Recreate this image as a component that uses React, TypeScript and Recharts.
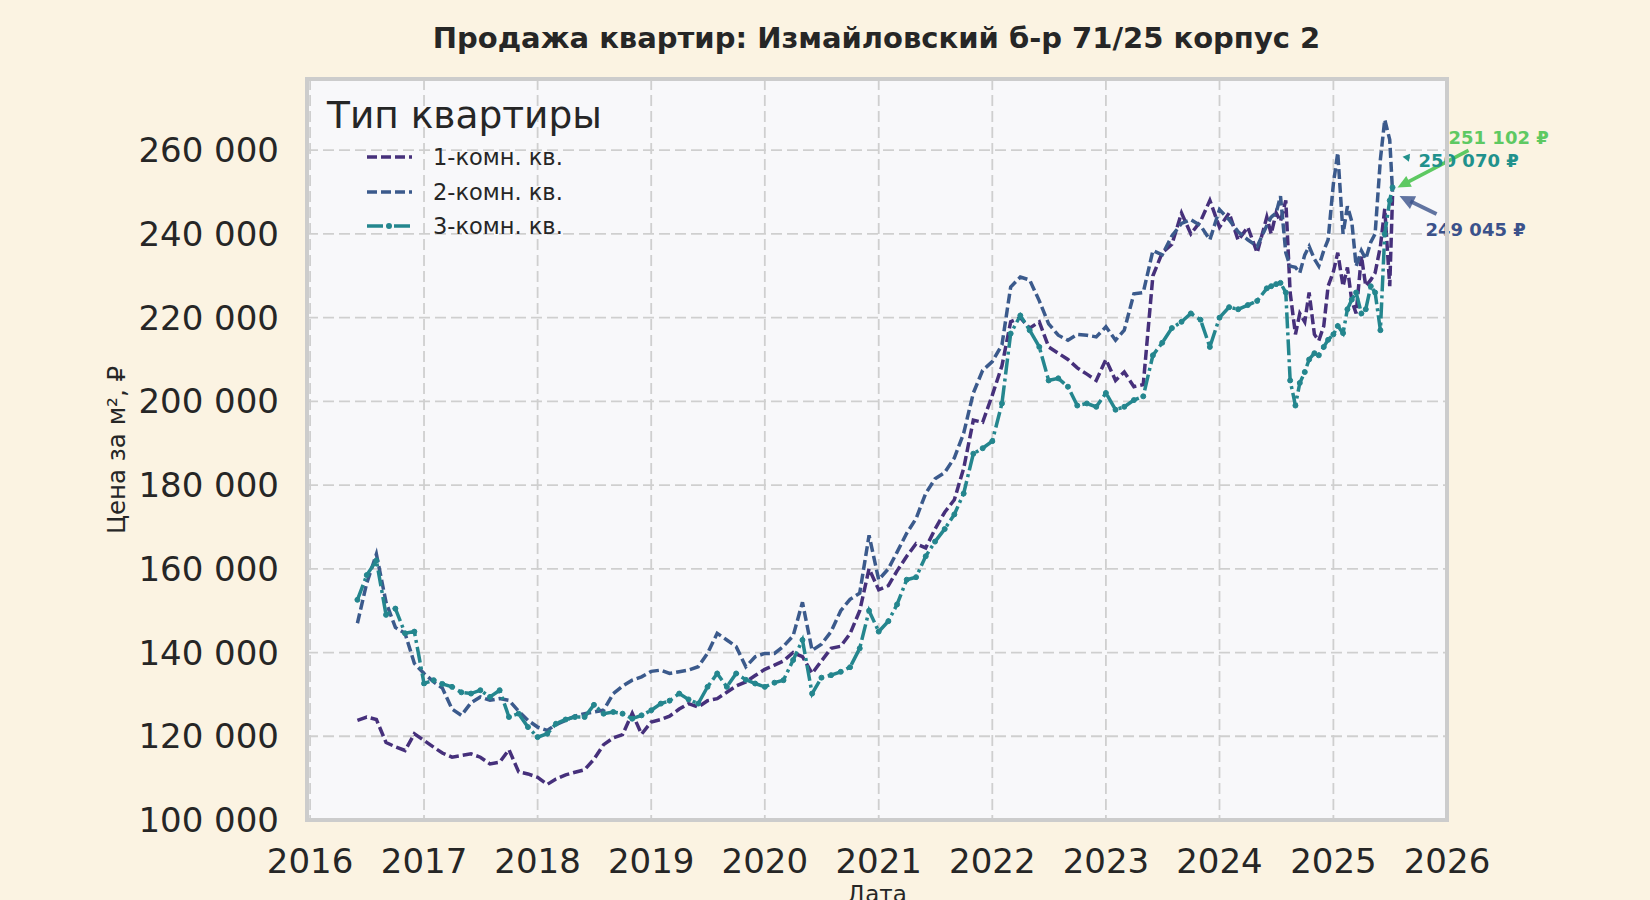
import { LineChart, Line, XAxis, YAxis, CartesianGrid, Legend, ReferenceDot } from 'recharts';

// dates of the observations (monthly, then twice a month for the last year)
const dates = [
  '2016-06-01', '2016-07-01', '2016-08-01', '2016-09-01', '2016-10-01', '2016-11-01', '2016-12-01',
  '2017-01-01', '2017-02-01', '2017-03-01', '2017-04-01', '2017-05-01', '2017-06-01',
  '2017-07-01', '2017-08-01', '2017-09-01', '2017-10-01', '2017-11-01', '2017-12-01',
  '2018-01-01', '2018-02-01', '2018-03-01', '2018-04-01', '2018-05-01', '2018-06-01',
  '2018-07-01', '2018-08-01', '2018-09-01', '2018-10-01', '2018-11-01', '2018-12-01',
  '2019-01-01', '2019-02-01', '2019-03-01', '2019-04-01', '2019-05-01', '2019-06-01',
  '2019-07-01', '2019-08-01', '2019-09-01', '2019-10-01', '2019-11-01', '2019-12-01',
  '2020-01-01', '2020-02-01', '2020-03-01', '2020-04-01', '2020-05-01', '2020-06-01',
  '2020-07-01', '2020-08-01', '2020-09-01', '2020-10-01', '2020-11-01', '2020-12-01',
  '2021-01-01', '2021-02-01', '2021-03-01', '2021-04-01', '2021-05-01', '2021-06-01',
  '2021-07-01', '2021-08-01', '2021-09-01', '2021-10-01', '2021-11-01', '2021-12-01',
  '2022-01-01', '2022-02-01', '2022-03-01', '2022-04-01', '2022-05-01', '2022-06-01',
  '2022-07-01', '2022-08-01', '2022-09-01', '2022-10-01', '2022-11-01', '2022-12-01',
  '2023-01-01', '2023-02-01', '2023-03-01', '2023-04-01', '2023-05-01', '2023-06-01',
  '2023-07-01', '2023-08-01', '2023-09-01', '2023-10-01', '2023-11-01', '2023-12-01',
  '2024-01-01', '2024-02-01', '2024-03-01', '2024-04-01', '2024-05-01', '2024-06-01',
  '2024-06-15', '2024-07-01', '2024-07-15', '2024-08-01', '2024-08-15', '2024-09-01',
  '2024-09-15', '2024-10-01', '2024-10-15', '2024-11-01', '2024-11-15', '2024-12-01',
  '2024-12-15', '2025-01-01', '2025-01-15', '2025-02-01', '2025-02-15', '2025-03-01',
  '2025-03-15', '2025-04-01', '2025-04-15', '2025-05-01', '2025-05-15', '2025-06-01',
  '2025-06-15', '2025-07-01', '2025-07-10',
];

// цена за м², ₽
const oneRoom = [
  123800, 124600, 124000, 118500, 117500, 116600, 120600,
  119000, 117400, 116000, 115000, 115400, 115800, 115000, 113400, 113800, 116800, 111500, 111000,
  110200, 108500, 109800, 110800, 111400, 112000, 114500, 118000, 119600, 120400, 125500, 120500,
  123400, 124000, 124800, 126500, 127800, 127000, 128500, 129000, 130500, 132000, 133000, 134500,
  136000, 137000, 138000, 140000, 139000, 135000, 138000, 141000, 141500, 144500, 150000, 160000,
  155000, 156000, 159500, 163000, 166000, 165000, 169500, 173500, 176500, 184000, 195500, 195000,
  201500, 208500, 219000, 220000, 217500, 219000, 213000, 211500, 210000, 208000, 206500, 205000,
  210000, 205000, 207000, 203500, 204000, 230000, 235500, 237500, 245000, 240000, 243000, 248000,
  241600, 245000, 238500, 241600, 235500, 244000,
  240000, 245000, 243000, 248000, 226000, 216000, 221000, 219000, 226000, 216000, 214500, 218000,
  227500, 231000, 235500, 227500, 232000, 224000, 221000, 234700, 227500, 229000, 230700, 237000,
  246000, 227500, 249045,
];

const twoRoom = [
  147000, 156600, 163500, 152000, 146000, 144600, 137400,
  135000, 133000, 131500, 126500, 125000, 128000, 129400, 128600, 129000, 128600, 126000, 123800,
  122200, 121400, 122800, 123800, 124800, 125400, 125800, 126200, 130200, 132000, 133400, 134200,
  135500, 135800, 135000, 135400, 135800, 136600, 139800, 144600, 143000, 141400, 136600, 139000,
  139800, 139800, 141500, 144000, 152000, 140500, 142000, 145000, 150000, 152700, 154200, 168000,
  157400, 160000, 164000, 168500, 172000, 178000, 181500, 183000, 186500, 192400, 202000, 207400,
  209500, 213500, 227300, 229700, 229000, 224000, 218500, 215800, 214600, 216000, 215800, 215400,
  217800, 214600, 217000, 225700, 226000, 236000, 235000, 239500, 242500, 243400, 242000, 238600,
  245800, 243400, 240500, 238600, 237000, 242000,
  244000, 245000, 249000, 235500, 232300, 232000, 230700, 235000, 237000, 234000, 232300, 236000,
  238600, 252000, 259400, 240000, 246600, 243000, 232300, 236000, 234000, 238000, 240000, 257800,
  267300, 262500, 250070,
];

const threeRoom = [
  152600, 158500, 162000, 149000, 150500, 144600, 145000,
  132600, 133400, 132500, 131800, 130500, 130200, 131000, 129400, 131000, 124600, 125400, 122200,
  119800, 120600, 123000, 124000, 124600, 124600, 127500, 125400, 125800, 125400, 124200, 125000,
  126200, 127800, 128500, 130200, 128800, 127800, 131800, 135000, 131800, 135000, 133500, 132600,
  131800, 132800, 133400, 138200, 143000, 130200, 134000, 134600, 135400, 136500, 141000, 150000,
  145000, 147500, 151500, 157400, 158000, 163000, 166500, 169500, 173000, 178000, 187500, 188800,
  190500, 199500, 216200, 220500, 217000, 213000, 205000, 205500, 203500, 199000, 199500, 198700,
  202000, 198000, 198700, 200300, 201200, 211000, 214000, 217500, 219000, 221000, 219500, 213000,
  220000, 222500, 222000, 223000, 224000, 227000,
  227500, 228000, 228300, 226000, 205000, 199000, 204400, 207000, 210000, 211500, 211000, 213000,
  214700, 216000, 218000, 216300, 222000, 224300, 226000, 221000, 222000, 227500, 226000, 217000,
  240000, 248000, 251102,
];

const yearTicks = [2016, 2017, 2018, 2019, 2020, 2021, 2022, 2023, 2024, 2025, 2026];
const priceTicks = [100000, 120000, 140000, 160000, 180000, 200000, 220000, 240000, 260000];
const seriesNames = ['1-комн. кв.', '2-комн. кв.', '3-комн. кв.'];

const data = dates.map((d, i) => ({
  t: Date.parse(d),
  one: oneRoom[i],
  two: twoRoom[i],
  three: threeRoom[i],
}));

const FONT = '"DejaVu Sans", sans-serif';
const INK = '#262626';

const series = [
  { key: 'one', name: seriesNames[0], color: '#46307b', dash: '10 4' },
  { key: 'two', name: seriesNames[1], color: '#3b5a8c', dash: '10 4' },
  { key: 'three', name: seriesNames[2], color: '#24868e', dash: '16 4 3 4' },
];

const fmt = (v: number) => String(Math.round(v)).replace(/\B(?=(\d{3})+(?!\d))/g, ' ');

function arrowHead(x1, y1, x2, y2, len, half) {
  const a = Math.atan2(y2 - y1, x2 - x1);
  const bx = x2 - len * Math.cos(a);
  const by = y2 - len * Math.sin(a);
  const px = -Math.sin(a) * half;
  const py = Math.cos(a) * half;
  return `${x2},${y2} ${bx + px},${by + py} ${bx - px},${by - py}`;
}

function makeNote(label, color, tdx, tdy, ax, ay, hx, hy, width, len, half, opacity) {
  return (props) => {
    const { cx, cy } = props;
    if (cx == null || cy == null) return null;
    const x1 = cx + ax, y1 = cy + ay, x2 = cx + hx, y2 = cy + hy;
    const a = Math.atan2(y2 - y1, x2 - x1);
    const sx = x2 - len * 0.8 * Math.cos(a);
    const sy = y2 - len * 0.8 * Math.sin(a);
    return (
      <g>
        <line x1={x1} y1={y1} x2={sx} y2={sy} stroke={color} strokeWidth={width} strokeOpacity={opacity} />
        <polygon points={arrowHead(x1, y1, x2, y2, len, half)} fill={color} fillOpacity={opacity} />
        <text x={cx + tdx} y={cy + tdy} dominantBaseline="central" fill={color} fontFamily={FONT}
          fontWeight="bold" fontSize={18}>{label}</text>
      </g>
    );
  };
}

const last = dates.length - 1;
const lastT = Date.parse(dates[last]);

function LegendBox(props) {
  const payload = props.payload || [];
  return (
    <div style={{ position: 'relative', height: 0, fontFamily: FONT, color: INK }}>
      <div style={{ position: 'absolute', left: 327, top: 97, fontSize: 37.5, lineHeight: '37px', whiteSpace: 'nowrap' }}>
        Тип квартиры
      </div>
      {payload.map((p, i) => {
        const s = series.find((x) => x.key === p.dataKey) || series[i];
        const cy = 157 + i * 34.5;
        return (
          <div key={s.key}>
            <svg style={{ position: 'absolute', left: 365, top: cy - 6 }} width={50} height={12}>
              <line x1={2} y1={6} x2={47} y2={6} stroke={s.color} strokeWidth={3.5} strokeDasharray={s.dash} />
              {s.key === 'three' && <circle cx={24} cy={6} r={3} fill={s.color} />}
            </svg>
            <div style={{ position: 'absolute', left: 433, top: cy - 11, fontSize: 22.5, lineHeight: '22px', whiteSpace: 'nowrap' }}>
              {s.name}
            </div>
          </div>
        );
      })}
    </div>
  );
}

export default function App() {
  return (
    <div style={{ position: 'absolute', left: 0, top: 0, width: 1650, height: 900, background: '#fbf3e2', overflow: 'hidden', fontFamily: FONT }}>
      <div style={{ position: 'absolute', left: 0, width: 1650, top: 24, textAlign: 'center', paddingLeft: 103, boxSizing: 'border-box',
        fontSize: 29, lineHeight: '29px', fontWeight: 'bold', color: INK, whiteSpace: 'nowrap' }}>
        Продажа квартир: Измайловский б-р 71/25 корпус 2
      </div>
      <LineChart width={1650} height={900} data={data} margin={{ top: 79, right: 203, bottom: 0, left: 0 }}>
        <CartesianGrid stroke="#cfcfcf" strokeWidth={1.8} strokeDasharray="11 5" fill="#f8f8fa" />
        <XAxis
          dataKey="t"
          type="number"
          scale="time"
          domain={[Date.UTC(2015, 11, 22), Date.UTC(2026, 0, 1)]}
          ticks={yearTicks.map((y) => Date.UTC(y, 0, 1))}
          tickFormatter={(v) => String(new Date(v).getUTCFullYear())}
          height={80}
          axisLine={false}
          tickLine={false}
          tickMargin={23}
          tick={{ fontSize: 34, fill: INK, fontFamily: FONT }}
          allowDataOverflow
        />
        <YAxis
          type="number"
          domain={[100000, 277000]}
          ticks={priceTicks}
          tickFormatter={fmt}
          width={307}
          axisLine={false}
          tickLine={false}
          tickMargin={22}
          tick={{ fontSize: 34, fill: INK, fontFamily: FONT }}
          allowDataOverflow
        />
        <Legend verticalAlign="top" align="left" wrapperStyle={{ left: 0, top: 0, width: 1, height: 0 }} content={LegendBox} />
        {series.map((s) => (
          <Line
            key={s.key}
            dataKey={s.key}
            name={s.name}
            type="linear"
            stroke={s.color}
            strokeWidth={3.5}
            strokeDasharray={s.dash}
            dot={s.key === 'three' ? { r: 2.5, fill: s.color, stroke: s.color, strokeWidth: 1, strokeDasharray: 'none' } : false}
            activeDot={false}
            isAnimationActive={false}
          />
        ))}
        <ReferenceDot x={lastT} y={threeRoom[last]} r={0}
          shape={makeNote(fmt(threeRoom[last]) + ' ₽', '#5ec962', 56, -50, 76, -37, 5, 0, 3.5, 13, 6, 1)} />
        <ReferenceDot x={lastT} y={twoRoom[last]} r={0}
          shape={makeNote(fmt(twoRoom[last]) + ' ₽', '#21918c', 26, -31, 17, -34, 10, -35, 2, 7, 4, 1)} />
        <ReferenceDot x={lastT} y={oneRoom[last]} r={0}
          shape={makeNote(fmt(oneRoom[last]) + ' ₽', '#3b528b', 33, 33, 44, 18, 7, 0, 4, 15, 7, 0.8)} />
      </LineChart>
      <div style={{ position: 'absolute', left: 305, top: 77, width: 1144, height: 745, border: '4px solid #cccccc', boxSizing: 'border-box', pointerEvents: 'none' }} />
      <div style={{ position: 'absolute', left: 116, top: 450, transform: 'translate(-50%, -50%) rotate(-90deg)', fontSize: 24.5, color: INK, whiteSpace: 'nowrap' }}>
        Цена за м², ₽
      </div>
      <div style={{ position: 'absolute', left: 877, top: 883, transform: 'translateX(-50%)', fontSize: 23, lineHeight: '23px', color: INK, whiteSpace: 'nowrap' }}>
        Дата
      </div>
    </div>
  );
}
